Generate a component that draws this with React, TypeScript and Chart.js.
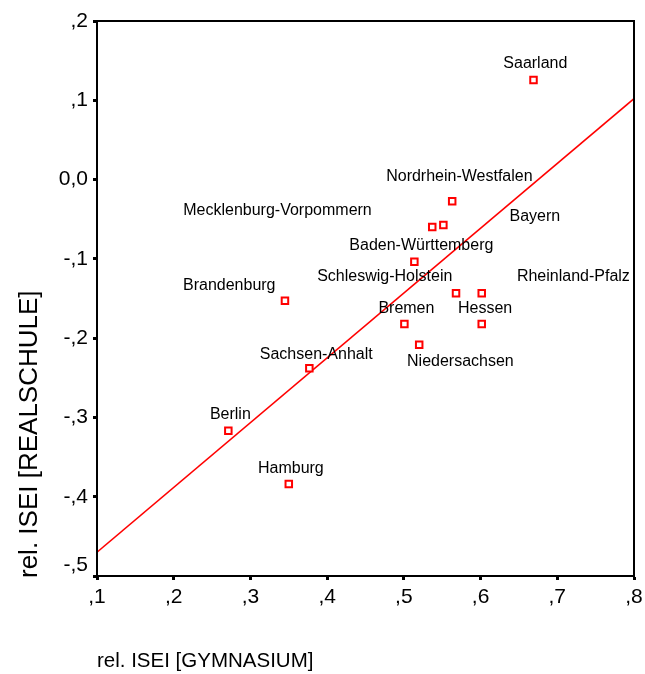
import React, { useEffect, useRef } from 'react';
import { Chart, registerables } from 'chart.js';

Chart.register(...registerables);

// Data
const states = [
  'Saarland', 'Nordrhein-Westfalen', 'Mecklenburg-Vorpommern', 'Bayern',
  'Baden-Württemberg', 'Schleswig-Holstein', 'Brandenburg', 'Rheinland-Pfalz',
  'Bremen', 'Hessen', 'Niedersachsen', 'Sachsen-Anhalt', 'Berlin', 'Hamburg',
];
const gymnasium = [0.669, 0.563, 0.537, 0.5515, 0.5137, 0.568, 0.345, 0.6015, 0.5007, 0.6015, 0.52, 0.3768, 0.2712, 0.35];
const realschule = [0.1257, -0.0273, -0.0598, -0.0573, -0.1036, -0.1433, -0.1527, -0.1433, -0.1823, -0.1823, -0.2083, -0.238, -0.3167, -0.3839];

// Label anchors (data units) as placed in the picture
const labelX = [0.6714, 0.5724, 0.3353, 0.6707, 0.5228, 0.4751, 0.2724, 0.721, 0.5033, 0.6059, 0.5737, 0.3858, 0.2738, 0.3527];
const labelY = [0.1462, 0.0033, -0.0396, -0.0463, -0.0829, -0.1229, -0.1333, -0.1229, -0.1628, -0.1628, -0.2292, -0.2208, -0.296, -0.3646];

// Fit line
const fitX = [0.1, 0.8];
const fitY = [-0.47, 0.102];

// Ticks
const xTickValues = [0.1, 0.2, 0.3, 0.4, 0.5, 0.6, 0.7, 0.8];
const xTickLabels = [',1', ',2', ',3', ',4', ',5', ',6', ',7', ',8'];
const yTickValues = [-0.5, -0.4, -0.3, -0.2, -0.1, 0, 0.1, 0.2];
const yTickLabels = ['-,5', '-,4', '-,3', '-,2', '-,1', '0,0', ',1', ',2'];

const xTitle = 'rel. ISEI [GYMNASIUM]';
const yTitle = 'rel. ISEI [REALSCHULE]';

const FONT = "'Liberation Sans', Arial, Helvetica, sans-serif";

const decorPlugin = {
  id: 'decor',
  afterDatasetsDraw(chart: any) {
    const { ctx, chartArea, scales } = chart;
    ctx.save();
    // frame
    ctx.strokeStyle = '#000';
    ctx.lineWidth = 2;
    ctx.strokeRect(chartArea.left, chartArea.top, chartArea.right - chartArea.left, chartArea.bottom - chartArea.top);

    // point labels
    ctx.fillStyle = '#000';
    ctx.font = `16px ${FONT}`;
    ctx.textAlign = 'center';
    ctx.textBaseline = 'middle';
    states.forEach((s, i) => {
      ctx.fillText(s, scales.x.getPixelForValue(labelX[i]), scales.y.getPixelForValue(labelY[i]));
    });

    // axis titles
    ctx.font = `20.5px ${FONT}`;
    ctx.textAlign = 'left';
    ctx.textBaseline = 'alphabetic';
    ctx.fillText(xTitle, chartArea.left, chartArea.bottom + 91);

    ctx.font = `26px ${FONT}`;
    ctx.translate(chartArea.left - 60, chartArea.bottom + 2);
    ctx.rotate(-Math.PI / 2);
    ctx.fillText(yTitle, 0, 0);
    ctx.restore();
  },
};

export default function App() {
  const ref = useRef<HTMLCanvasElement>(null);

  useEffect(() => {
    if (!ref.current) return;
    const chart = new Chart(ref.current, {
      type: 'scatter',
      data: {
        datasets: [
          {
            type: 'line',
            label: 'fit',
            data: fitX.map((x, i) => ({ x, y: fitY[i] })),
            borderColor: '#ff0000',
            borderWidth: 1.6,
            pointRadius: 0,
            fill: false,
            order: 2,
          } as any,
          {
            label: 'Bundesländer',
            data: gymnasium.map((x, i) => ({ x, y: realschule[i] })),
            pointStyle: 'rect',
            pointRadius: 4.6,
            pointBorderWidth: 2,
            borderColor: '#ff0000',
            backgroundColor: '#ffffff',
            pointBackgroundColor: '#ffffff',
            pointBorderColor: '#ff0000',
            order: 1,
          },
        ],
      },
      options: {
        responsive: false,
        animation: false,
        layout: { padding: { left: 0, top: 21, right: 11, bottom: 0 } },
        plugins: { legend: { display: false }, tooltip: { enabled: false } },
        scales: {
          x: {
            type: 'linear',
            min: 0.1,
            max: 0.8,
            afterBuildTicks: (scale: any) => {
              scale.ticks = xTickValues.map((v) => ({ value: v }));
            },
            afterFit: (scale: any) => {
              scale.height = 98;
              scale.paddingLeft = 0;
              scale.paddingRight = 0;
            },
            ticks: {
              autoSkip: false,
              maxRotation: 0,
              padding: 5,
              color: '#000',
              font: { family: FONT, size: 21 },
              callback: (_v: any, i: number) => xTickLabels[i],
            },
            grid: {
              drawOnChartArea: false,
              drawTicks: true,
              tickLength: 4,
              tickWidth: 3,
              tickColor: '#000',
            },
            border: { display: true, color: '#000', width: 2 },
          },
          y: {
            type: 'linear',
            min: -0.5,
            max: 0.2,
            afterBuildTicks: (scale: any) => {
              scale.ticks = yTickValues.map((v) => ({ value: v }));
            },
            afterFit: (scale: any) => {
              scale.width = 97;
            },
            ticks: {
              autoSkip: false,
              padding: 5,
              color: '#000',
              font: { family: FONT, size: 21, lineHeight: 1 },
              // the lowest label sits lifted above its tick, clear of the x labels
              callback: (_v: any, i: number) => (i === 0 ? [yTickLabels[i], ''] : yTickLabels[i]),
            },
            grid: {
              drawOnChartArea: false,
              drawTicks: true,
              tickLength: 4,
              tickWidth: 3,
              tickColor: '#000',
            },
            border: { display: true, color: '#000', width: 2 },
          },
        },
      },
      plugins: [decorPlugin],
    });
    return () => chart.destroy();
  }, []);

  return (
    <div style={{ position: 'fixed', left: 0, top: 0, width: 645, height: 674, background: '#fff' }}>
      <canvas ref={ref} width={645} height={674} style={{ width: 645, height: 674, display: 'block' }} />
    </div>
  );
}
